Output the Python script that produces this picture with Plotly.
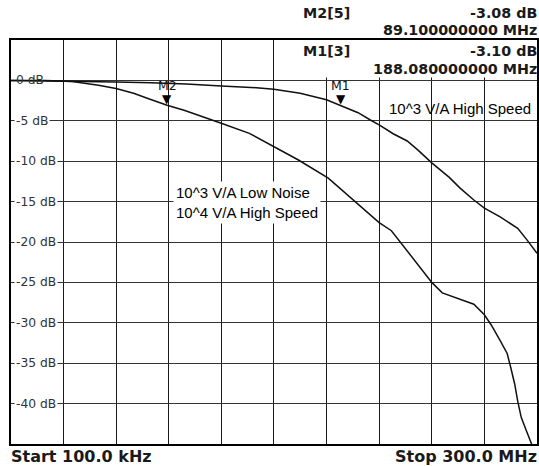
import plotly.graph_objects as go

# ---------------- data ----------------
# Trace 1: 10^3 V/A High Speed  (frequency MHz, level dB)
hs_freq = [0.1, 20, 40, 60, 80, 100, 120, 140, 150, 165, 180, 188.08, 198, 205, 210,
           218, 226, 232, 240, 250, 256, 264, 270, 279, 289, 294.5, 300]
hs_db = [0, -0.05, -0.1, -0.2, -0.3, -0.45, -0.7, -0.9, -1.1, -1.6, -2.4, -3.10, -4.0,
         -4.9, -5.5, -6.6, -7.5, -8.6, -10.2, -12.0, -13.3, -14.8, -15.8, -16.9, -18.3,
         -19.8, -21.4]

# Trace 2: 10^3 V/A Low Noise / 10^4 V/A High Speed
ln_freq = [0.1, 20, 35, 42, 50, 60, 70, 79, 89.1, 98.8, 110, 120, 136, 150, 164, 181,
           193, 198, 210, 217, 222, 230, 236, 240, 246, 256, 264, 270, 274, 279, 283,
           285, 287.3, 289, 291, 294, 296.6, 298]
ln_db = [0, -0.02, -0.15, -0.35, -0.6, -1.0, -1.6, -2.3, -3.08, -3.7, -4.5, -5.3, -6.55,
         -8.2, -9.85, -12.1, -14.4, -15.3, -17.6, -18.6, -20.0, -22.1, -23.8, -25.0,
         -26.3, -27.1, -27.7, -29.0, -30.3, -32.2, -33.8, -35.5, -37.6, -39.7, -41.7,
         -43.4, -44.7, -45.6]

# markers
marker_names = ["M1", "M2"]
marker_freq = [188.08, 89.1]
marker_db = [-3.10, -3.08]

# y tick labels
ytick_vals = [0, -5, -10, -15, -20, -25, -30, -35, -40]
ytick_text = ["0 dB", "-5 dB", "-10 dB", "-15 dB", "-20 dB", "-25 dB", "-30 dB",
              "-35 dB", "-40 dB"]

# header texts
hdr_rows = [("M2[5]", "-3.08 dB", "89.100000000 MHz"),
            ("M1[3]", "-3.10 dB", "188.080000000 MHz")]
start_label = "Start 100.0 kHz"
stop_label = "Stop 300.0 MHz"
label_hs = "10^3 V/A High Speed"
label_ln = "10^3 V/A Low Noise<br>10^4 V/A High Speed"

# ---------------- layout helpers ----------------
W, H = 539, 466
PL, PR, PT, PB = 11, 539, 40, 444  # plot box in pixels


def px(x):
    return x / W


def py(y):
    return 1 - y / H


HDR_FONT = dict(family="DejaVu Sans", size=14.3, color="#1a1a1a", weight="bold")
LBL_FONT = dict(family="Liberation Sans, Arial, sans-serif", size=15, color="#000000")

fig = go.Figure()
fig.add_trace(go.Scatter(x=hs_freq, y=hs_db, mode="lines",
                         line=dict(color="#111111", width=1.5), hoverinfo="skip"))
fig.add_trace(go.Scatter(x=ln_freq, y=ln_db, mode="lines",
                         line=dict(color="#111111", width=1.5), hoverinfo="skip"))

ann = []
# y labels
for v, t in zip(ytick_vals, ytick_text):
    ann.append(dict(x=px(14), xref="paper", y=v, yref="y", text=t, showarrow=False,
                    xanchor="left", yanchor="middle",
                    bgcolor=None if v == 0 else "white", borderpad=1,
                    font=dict(family="DejaVu Sans", size=12.3, color="#333333")))
# markers
for n, f, d in zip(marker_names, marker_freq, marker_db):
    ann.append(dict(x=f, y=d, xref="x", yref="y", text="▼", showarrow=False,
                    xanchor="center", yanchor="bottom", yshift=-3,
                    font=dict(family="DejaVu Sans", size=12, color="#000000")))
    ann.append(dict(x=f, y=d, xref="x", yref="y", text=n, showarrow=False,
                    xanchor="center", yanchor="bottom", yshift=10,
                    font=dict(family="DejaVu Sans", size=12.5, color="#111111")))
# header
hdr_y = [(12.5, 29.5), (51.5, 68.5)]
for (name, val, freq), (y1, y2) in zip(hdr_rows, hdr_y):
    ann.append(dict(x=px(302), y=py(y1), xref="paper", yref="paper", text=name,
                    showarrow=False, xanchor="left", yanchor="middle", font=HDR_FONT))
    ann.append(dict(x=px(541), y=py(y1), xref="paper", yref="paper", text=val,
                    showarrow=False, xanchor="right", yanchor="middle", font=HDR_FONT))
    ann.append(dict(x=px(541), y=py(y2), xref="paper", yref="paper", text=freq,
                    showarrow=False, xanchor="right", yanchor="middle", font=HDR_FONT))
# start / stop
ann.append(dict(x=px(9), y=py(456), xref="paper", yref="paper", text=start_label,
                showarrow=False, xanchor="left", yanchor="middle",
                font=dict(family="DejaVu Sans", size=16, color="#1a1a1a", weight="bold")))
ann.append(dict(x=px(541), y=py(456), xref="paper", yref="paper", text=stop_label,
                showarrow=False, xanchor="right", yanchor="middle",
                font=dict(family="DejaVu Sans", size=16, color="#1a1a1a", weight="bold")))
# curve labels
ann.append(dict(x=px(388), y=py(108), xref="paper", yref="paper", text=label_hs,
                showarrow=False, xanchor="left", yanchor="middle", font=LBL_FONT))
ann.append(dict(x=px(174), y=py(202), xref="paper", yref="paper", text=label_ln,
                showarrow=False, xanchor="left", yanchor="middle", align="left",
                bgcolor="white", borderpad=2, font=LBL_FONT))

fig.update_layout(
    width=W, height=H,
    margin=dict(l=0, r=0, t=0, b=0),
    paper_bgcolor="white", plot_bgcolor="white",
    showlegend=False,
    annotations=ann,
    shapes=[dict(type="rect", xref="x", yref="y", x0=151.5, x1=301, y0=0.35, y1=5,
                 fillcolor="white", line=dict(width=0), layer="between")],
    xaxis=dict(domain=[px(PL), px(PR)], range=[0.1, 300], tick0=0.1, dtick=29.99,
               showticklabels=False, ticks="", showgrid=True, gridcolor="#1a1a1a",
               gridwidth=1, zeroline=False, showline=True, linecolor="#000000",
               linewidth=2, mirror=True, fixedrange=True),
    yaxis=dict(domain=[py(PB), py(PT)], range=[-45, 5], tick0=0, dtick=5,
               showticklabels=False, ticks="", showgrid=True, gridcolor="#333333",
               gridwidth=1, zeroline=False, showline=True, linecolor="#000000",
               linewidth=2, mirror=True, fixedrange=True),
)

fig.write_html("out.html", config={"displayModeBar": False},
               post_script="document.body.style.margin='0';document.body.style.overflow='hidden';")
